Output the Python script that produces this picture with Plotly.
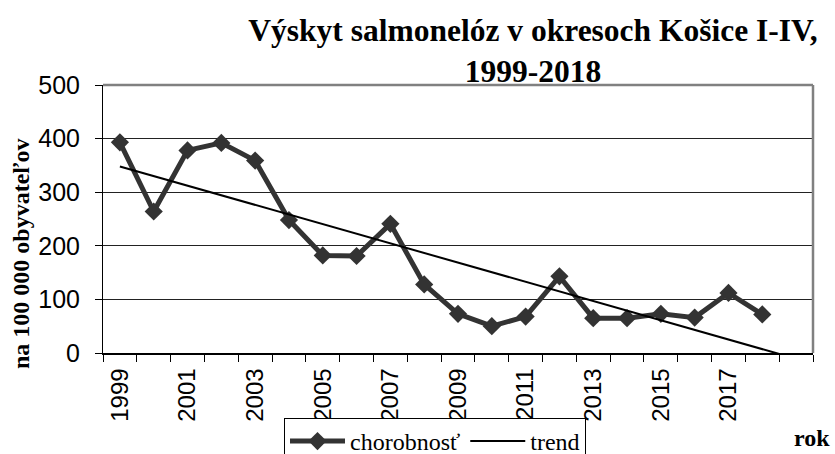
import numpy as np
import plotly.graph_objects as go

years = [str(y) for y in range(1999, 2019)]
axis_years = [str(y) for y in range(1999, 2020)]
chorobnost = [393, 264, 378, 392, 359, 248, 182, 181, 241, 128,
              73, 50, 68, 143, 65, 65, 73, 66, 112, 72]
tick_labels = [y if (int(y) - 1999) % 2 == 0 and y != "2019" else "" for y in axis_years]

title_text = "Výskyt salmonelóz v okresoch Košice I-IV,<br>1999-2018"
y_title = "na 100 000 obyvateľov"
x_title = "rok"

# linear trend (least squares), extended one period forward
idx = np.arange(len(chorobnost))
slope, intercept = np.polyfit(idx, chorobnost, 1)
trend_idx = np.arange(len(axis_years))
trend = intercept + slope * trend_idx

W, H = 835, 454
L, R, T, B = 103, 22, 85, 101
ph = H - T - B
pw = W - L - R

def py(pix):
    return (H - B - pix) / ph

def px(pix):
    return (pix - L) / pw

fig = go.Figure()
fig.add_trace(go.Scatter(
    x=years, y=chorobnost, name="chorobnosť", mode="lines+markers",
    line=dict(color="#333333", width=5),
    marker=dict(symbol="diamond", size=14, color="#333333"),
))
fig.add_trace(go.Scatter(
    x=axis_years, y=trend, name="trend", mode="lines",
    line=dict(color="#000000", width=2),
))

serif = "Liberation Serif"
sans = "Liberation Sans"

fig.update_layout(
    width=W, height=H,
    margin=dict(l=L, r=R, t=T, b=B, pad=0, autoexpand=False),
    paper_bgcolor="white", plot_bgcolor="white",
    showlegend=True,
    title=dict(
        text="<b>" + title_text + "</b>",
        xref="container", yref="container",
        x=533 / W, xanchor="center", y=1 - 41 / H, yanchor="top",
        font=dict(family=serif, size=31.5, color="black"),
    ),
    legend=dict(
        orientation="h", xref="container", yref="container",
        x=284 / W, y=1 - 418 / H, xanchor="left", yanchor="top",
        bordercolor="#000000", borderwidth=1,
        font=dict(family=serif, size=24, color="black"),
        itemwidth=55, tracegroupgap=0,
    ),
    xaxis=dict(
        type="category", categoryorder="array", categoryarray=axis_years,
        range=[-0.5, len(axis_years) - 0.5],
        tickmode="array", tickvals=axis_years, ticktext=tick_labels,
        tickson="boundaries", ticks="outside", ticklen=7, tickcolor="black",
        tickangle=-90, tickfont=dict(family=sans, size=24, color="black"),
        ticklabelstandoff=4,
        showline=True, linecolor="black", linewidth=1.5,
        showgrid=False, zeroline=False, automargin=False,
    ),
    yaxis=dict(
        range=[0, 500], tickmode="linear", tick0=0, dtick=100,
        ticks="outside", ticklen=7, tickcolor="black",
        tickfont=dict(family=sans, size=25, color="black"),
        ticklabelstandoff=10,
        showline=True, linecolor="black", linewidth=1,
        showgrid=True, gridcolor="#222222", gridwidth=1,
        zeroline=False, automargin=False,
    ),
    shapes=[
        dict(type="line", xref="paper", yref="paper", x0=0, x1=1, y0=1, y1=1,
             line=dict(color="#808080", width=2.5)),
        dict(type="line", xref="paper", yref="paper", x0=1, x1=1, y0=0, y1=1,
             line=dict(color="#808080", width=2.5)),
    ],
    annotations=[
        dict(text="<b>" + y_title + "</b>", xref="paper", yref="paper",
             x=px(21), y=py(254), xanchor="center", yanchor="middle",
             textangle=-90, showarrow=False,
             font=dict(family=serif, size=24, color="black")),
        dict(text="<b>" + x_title + "</b>", xref="paper", yref="paper",
             x=px(832), y=py(438), xanchor="right", yanchor="middle",
             showarrow=False, font=dict(family=serif, size=24, color="black")),
    ],
)

fig.write_html(
    "out.html",
    config={"displayModeBar": False},
    post_script="document.body.style.margin='0';document.body.style.overflow='hidden';",
)
